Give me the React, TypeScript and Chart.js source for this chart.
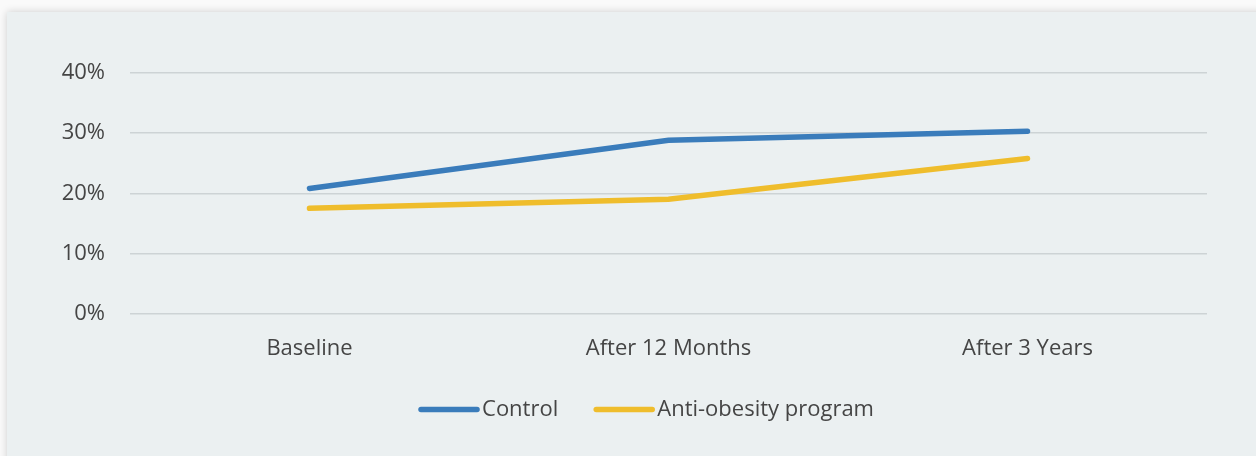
import React, { useEffect, useRef } from "react";
import { Chart, registerables } from "chart.js";

Chart.register(...registerables);

const categories = ["Baseline", "After 12 Months", "After 3 Years"];
const controlValues = [20.8, 28.8, 30.3];
const programValues = [17.5, 19.0, 25.8];
const seriesNames = ["Control", "Anti-obesity program"];
const yTicks = [0, 10, 20, 30, 40];

const BLUE = "#3a7cbb";
const YELLOW = "#efbd2c";
const TEXT = "#454545";
const FONT = "'Open Sans', Lato, sans-serif";
const FONT_SIZE = 22;
const FONT_WEIGHT = 500;

const lineLegend = {
  id: "lineLegend",
  afterDraw(chart: any) {
    const ctx = chart.ctx;
    const area = chart.chartArea;
    const lineLen = 60;
    const textGap = 3;
    const itemGap = 36;
    ctx.save();
    ctx.font = `${FONT_WEIGHT} ${FONT_SIZE}px ${FONT}`;
    const items = chart.data.datasets.map((d: any) => ({
      label: d.label,
      color: d.borderColor,
      w: lineLen + textGap + ctx.measureText(d.label).width,
    }));
    const total = items.reduce((s: number, it: any) => s + it.w, 0) + itemGap * (items.length - 1);
    let x = chart.width / 2 + 15 - total / 2;
    const y = area.bottom + 96;
    ctx.textBaseline = "middle";
    ctx.textAlign = "left";
    for (const it of items) {
      ctx.strokeStyle = it.color;
      ctx.lineWidth = 5.5;
      ctx.lineCap = "round";
      ctx.beginPath();
      ctx.moveTo(x + 2, y);
      ctx.lineTo(x + lineLen - 2, y);
      ctx.stroke();
      ctx.fillStyle = TEXT;
      ctx.fillText(it.label, x + lineLen + textGap, y);
      x += it.w + itemGap;
    }
    ctx.restore();
  },
};

export default function App() {
  const ref = useRef<HTMLCanvasElement | null>(null);

  useEffect(() => {
    if (!ref.current) return;
    const chart = new Chart(ref.current, {
      type: "line",
      data: {
        labels: categories,
        datasets: [
          {
            label: seriesNames[0],
            data: controlValues,
            borderColor: BLUE,
            backgroundColor: BLUE,
            borderWidth: 5.5,
            borderCapStyle: "round",
            pointRadius: 0,
            tension: 0,
          },
          {
            label: seriesNames[1],
            data: programValues,
            borderColor: YELLOW,
            backgroundColor: YELLOW,
            borderWidth: 5.5,
            borderCapStyle: "round",
            pointRadius: 0,
            tension: 0,
          },
        ],
      },
      options: {
        animation: false,
        responsive: false,
        maintainAspectRatio: false,
        layout: { padding: { top: 61, right: 49, left: 0, bottom: 72 } },
        plugins: {
          legend: { display: false },
          tooltip: { enabled: false },
        },
        scales: {
          x: {
            offset: true,
            grid: { display: false, drawTicks: false },
            border: { display: false },
            ticks: {
              color: TEXT,
              padding: 22,
              font: { family: FONT, size: FONT_SIZE, weight: FONT_WEIGHT },
            },
          },
          y: {
            min: 0,
            max: 40,
            afterBuildTicks: (s: any) => {
              s.ticks = yTicks.map((v) => ({ value: v }));
            },
            afterFit: (s: any) => {
              s.width = 123;
            },
            grid: { color: "#cdd3d5", lineWidth: 1.5, drawTicks: false },
            border: { display: false },
            ticks: {
              color: TEXT,
              padding: 25,
              font: { family: FONT, size: FONT_SIZE, weight: FONT_WEIGHT },
              callback: (v: any) => `${v}%`,
            },
          },
        },
      },
      plugins: [lineLegend],
    });
    return () => chart.destroy();
  }, []);

  return (
    <div
      style={{
        position: "absolute",
        left: 0,
        top: 0,
        width: 1256,
        height: 456,
        background: "#fafafa",
        overflow: "hidden",
      }}
    >
      <div
        style={{
          position: "absolute",
          left: 7,
          top: 12,
          width: 1260,
          height: 460,
          background: "#ebf0f1",
          boxShadow: "0 0 8px rgba(0,0,0,0.18)",
        }}
      >
        <canvas ref={ref} width={1249} height={444} style={{ display: "block" }} />
      </div>
    </div>
  );
}
